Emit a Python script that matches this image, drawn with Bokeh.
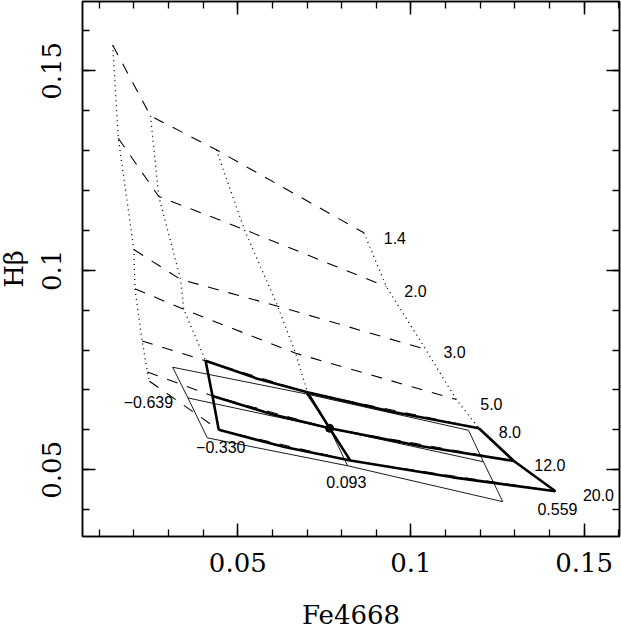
from bokeh.plotting import figure
from bokeh.models import Range1d, FixedTicker, LinearAxis, ColumnDataSource
from bokeh.embed import file_html
from bokeh.resources import INLINE
from bokeh.core.properties import value

# ---------------- data ----------------
ages = ["1.4", "2.0", "3.0", "5.0", "8.0", "12.0", "20.0"]
metallicities = ["\u22120.639", "\u22120.330", "0.093", "0.559"]

# coarse model grid: rows = ages, columns = metallicities
grid_fe4668 = [
    [0.0139, 0.0248, 0.0438, 0.0864],
    [0.0155, 0.0272, 0.0519, 0.0929],
    [0.0200, 0.0335, 0.0615, 0.1042],
    [0.0203, 0.0344, 0.0667, 0.1131],
    [0.0224, 0.0407, 0.0701, 0.1196],
    [0.0239, 0.0427, 0.0765, 0.1297],
    [0.0245, 0.0445, 0.0825, 0.1417],
]
grid_hbeta = [
    [0.1564, 0.1387, 0.1302, 0.1094],
    [0.1331, 0.1185, 0.1102, 0.0959],
    [0.1052, 0.0977, 0.0910, 0.0802],
    [0.0954, 0.0902, 0.0792, 0.0676],
    [0.0823, 0.0773, 0.0694, 0.0604],
    [0.0745, 0.0685, 0.0604, 0.0522],
    [0.0722, 0.0600, 0.0523, 0.0446],
]

# finer model (ages 8, 12, 20 ; metallicities -0.330, 0.093, 0.559)
fine_age_fe4668 = [
    [0.0407, 0.0554, 0.0701, 0.0949, 0.1196],
    [0.0427, 0.0596, 0.0765, 0.1031, 0.1297],
    [0.0445, 0.0635, 0.0825, 0.1121, 0.1417],
]
fine_age_hbeta = [
    [0.0773, 0.0729, 0.0694, 0.0645, 0.0604],
    [0.0685, 0.0640, 0.0604, 0.0559, 0.0522],
    [0.0600, 0.0557, 0.0523, 0.0481, 0.0446],
]
fine_z_fe4668 = [
    [0.0407, 0.0427, 0.0445],
    [0.0701, 0.0765, 0.0825],
    [0.1196, 0.1297, 0.1417],
]
fine_z_hbeta = [
    [0.0773, 0.0685, 0.0600],
    [0.0694, 0.0604, 0.0523],
    [0.0604, 0.0522, 0.0446],
]

# shifted (thin) grid: rows = ages, columns = metallicities
shift_fe4668 = [
    [0.0312, 0.0698, 0.1166],
    [0.0356, 0.0765, 0.1209],
    [0.0412, 0.0817, 0.1265],
]
shift_hbeta = [
    [0.0757, 0.0690, 0.0599],
    [0.0680, 0.0604, 0.0520],
    [0.0580, 0.0510, 0.0420],
]

# reference point
ref_fe4668 = [0.0765]
ref_hbeta = [0.0604]

xticks = [0.05, 0.1, 0.15]
xtick_labels = ["0.05", "0.1", "0.15"]
yticks = [0.05, 0.1, 0.15]
ytick_labels = ["0.05", "0.1", "0.15"]
x_minor_ticks = [0.01, 0.02, 0.03, 0.04, 0.05, 0.06, 0.07, 0.08, 0.09, 0.10,
                 0.11, 0.12, 0.13, 0.14, 0.15, 0.16]
y_minor_ticks = [0.04, 0.05, 0.06, 0.07, 0.08, 0.09, 0.10, 0.11, 0.12, 0.13,
                 0.14, 0.15, 0.16]

# label offsets in screen pixels (layout only)
age_label_dx = [31, 29, 29, 35, 31, 36, 43]
age_label_dy = [5, 4, 3, 4, 4, 4, 4]
z_label_dx = [-1, 2, -4, 2]
z_label_dy = [21, 17, 21, 18]

# ---------------- figure ----------------
SERIF = "DejaVu Serif"
SANS = "Liberation Sans"
SHIFT = 11  # canvas starts a little left of the window edge

p = figure(width=621 + SHIFT, height=632,
           x_range=Range1d(0.00517, 0.16019), y_range=Range1d(0.03327, 0.16738),
           output_backend="svg", toolbar_location=None,
           x_axis_location=None, y_axis_location=None,
           min_border_left=82 + SHIFT, min_border_right=2, min_border_top=1,
           min_border_bottom=94)
p.margin = (0, 0, 0, -SHIFT)
p.background_fill_color = "white"
p.border_fill_color = "white"
p.outline_line_color = "black"
p.outline_line_width = 1.5
for g in p.grid:
    g.visible = False


def make_axis(ticks, minor, labels, show):
    ax = LinearAxis(ticker=FixedTicker(ticks=ticks, minor_ticks=minor))
    ax.major_tick_in = 13
    ax.major_tick_out = 0
    ax.minor_tick_in = 7
    ax.minor_tick_out = 0
    ax.major_tick_line_width = 1.5
    ax.minor_tick_line_width = 1.3
    ax.axis_line_width = 1.5
    ax.axis_line_color = "black"
    ax.major_tick_line_color = "black"
    ax.minor_tick_line_color = "black"
    if show:
        ax.major_label_overrides = {t: s for t, s in zip(ticks, labels)}
        ax.major_label_text_font = SERIF
        ax.major_label_text_font_size = "26px"
        ax.major_label_text_color = "black"
        ax.axis_label_text_font = SERIF
        ax.axis_label_text_font_size = "26px"
        ax.axis_label_text_font_style = "normal"
        ax.axis_label_text_color = "black"
    else:
        ax.major_label_text_font_size = "0px"
        ax.major_label_standoff = 0
        ax.major_label_overrides = {t: "" for t in ticks}
    return ax


xb = make_axis(xticks, x_minor_ticks, xtick_labels, True)
xb.axis_label = "Fe4668"
xb.major_label_standoff = 16
xb.axis_label_standoff = 25
p.add_layout(xb, "below")

yl = make_axis(yticks, y_minor_ticks, ytick_labels, True)
yl.axis_label = "H\u03b2"
yl.major_label_orientation = "vertical"
yl.major_label_standoff = 21
yl.axis_label_standoff = 11
p.add_layout(yl, "left")

p.add_layout(make_axis(xticks, x_minor_ticks, xtick_labels, False), "above")
p.add_layout(make_axis(yticks, y_minor_ticks, ytick_labels, False), "right")

# coarse grid: dashed = constant age, dotted = constant metallicity
p.multi_line(xs=grid_fe4668, ys=grid_hbeta, line_color="black",
             line_width=1.1, line_dash="11 10")
z_cols_x = [list(c) for c in zip(*grid_fe4668)]
z_cols_y = [list(c) for c in zip(*grid_hbeta)]
p.multi_line(xs=z_cols_x, ys=z_cols_y, line_color="black",
             line_width=1.3, line_dash="1 4")

# shifted thin grid
p.multi_line(xs=shift_fe4668, ys=shift_hbeta, line_color="black", line_width=0.9)
p.multi_line(xs=[list(c) for c in zip(*shift_fe4668)],
             ys=[list(c) for c in zip(*shift_hbeta)],
             line_color="black", line_width=0.9)

# fine model thick lines
p.multi_line(xs=fine_age_fe4668, ys=fine_age_hbeta, line_color="black",
             line_width=2.6, line_join="round")
p.multi_line(xs=fine_z_fe4668, ys=fine_z_hbeta, line_color="black",
             line_width=2.6, line_join="round")

p.scatter(x=ref_fe4668, y=ref_hbeta, size=8, color="black")

# labels
age_src = ColumnDataSource(dict(
    x=[r[-1] for r in grid_fe4668], y=[r[-1] for r in grid_hbeta],
    text=ages, dx=age_label_dx, dy=age_label_dy))
p.text(x="x", y="y", text="text", x_offset="dx", y_offset="dy", source=age_src,
       text_font=value(SANS), text_font_size="16px", text_color="black",
       text_align="center", text_baseline="middle")

z_src = ColumnDataSource(dict(
    x=grid_fe4668[-1], y=grid_hbeta[-1],
    text=metallicities, dx=z_label_dx, dy=z_label_dy))
p.text(x="x", y="y", text="text", x_offset="dx", y_offset="dy", source=z_src,
       text_font=value(SANS), text_font_size="16px", text_color="black",
       text_align="center", text_baseline="middle")

open("out.html", "w").write(file_html(p, INLINE))
